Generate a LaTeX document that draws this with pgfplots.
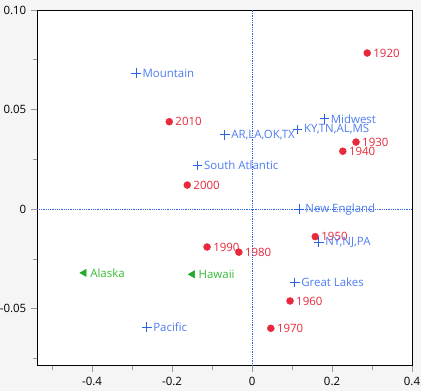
\documentclass[border=0pt]{standalone}
\usepackage{pgfplots}
\usepackage{pgfplotstable}
\pgfplotsset{compat=1.18}
\usepackage{fontspec}
\setmainfont{Open Sans}
\definecolor{bg}{HTML}{F5F5F5}
\definecolor{cred}{HTML}{E8283C}
\definecolor{cblue}{HTML}{2B62E6}
\definecolor{cbluet}{HTML}{4F7DF0}
\definecolor{cgreen}{HTML}{22AA2A}
\definecolor{cgreent}{HTML}{33BB33}
\pgfplotstableread[col sep=semicolon,row sep=\\]{
x;y;label\\
0.288;0.0784;1920\\
0.260;0.0337;1930\\
0.227;0.0291;1940\\
0.158;-0.0138;1950\\
0.095;-0.0461;1960\\
0.047;-0.0598;1970\\
-0.033;-0.0216;1980\\
-0.1125;-0.0190;1990\\
-0.162;0.0121;2000\\
-0.207;0.0439;2010\\
}\years
\pgfplotstableread[col sep=semicolon,row sep=\\]{
x;y;label\\
-0.290;0.0683;Mountain\\
-0.136;0.0219;South Atlantic\\
-0.068;0.0373;AR,LA,OK,TX\\
0.114;0.0400;KY,TN,AL,MS\\
0.181;0.0454;Midwest\\
0.1175;0.0000;New England\\
0.167;-0.0166;NY,NJ,PA\\
0.107;-0.0369;Great Lakes\\
-0.263;-0.0593;Pacific\\
}\regions
\pgfplotstableread[col sep=semicolon,row sep=\\]{
x;y;label\\
-0.420;-0.0320;Alaska\\
-0.149;-0.0327;Hawaii\\
}\states
\begin{document}
\begin{tikzpicture}[x=1bp,y=1bp]
\fill[bg] (-37.3,-25.3) rectangle (383.7,365.7);
\useasboundingbox (-37.3,-25.3) rectangle (383.7,365.7);
\begin{axis}[
  at={(0,0)}, anchor=south west,
  scale only axis, width=374.7bp, height=355.7bp,
  xmin=-0.537, xmax=0.4, ymin=-0.0786, ymax=0.1,
  axis background/.style={fill=white},
  axis line style={black, line width=0.8bp},
  xtick={-0.4,-0.2,0,0.2,0.4},
  xticklabels={-0.4,-0.2,0,0.2,0.4},
  minor xtick={-0.5,-0.3,-0.1,0.1,0.3},
  ytick={-0.05,0,0.05,0.1},
  yticklabels={-0.05,0,0.05,0.10},
  minor ytick={-0.075,-0.025,0.025,0.075},
  tick align=outside,
  xtick pos=bottom, ytick pos=left,
  major tick length=6.5bp, minor tick length=4bp,
  tick style={gray!80, line width=0.8bp},
  tick label style={font=\fontsize{11.5}{13}\selectfont, text=black},
  xticklabel style={yshift=-1bp},
  yticklabel style={xshift=-1bp},
  /pgf/number format/assume math mode=true,
  clip=false,
  nodes near coords,
  point meta=explicit symbolic,
  every node near coord/.style={anchor=west, inner sep=0pt, xshift=6bp, font=\fontsize{11.5}{13}\selectfont},
]
\addplot[cblue, densely dotted, line width=0.8bp, forget plot, nodes near coords={}] coordinates {(0,-0.0786) (0,0.1)};
\addplot[cblue, densely dotted, line width=0.8bp, forget plot, nodes near coords={}] coordinates {(-0.537,0) (0.4,0)};
\addplot[only marks, mark=*, mark size=3.5bp, color=cred,
  every node near coord/.append style={text=cred}] table[x=x,y=y,meta=label] {\years};
\addplot[only marks, mark=+, mark size=4.8bp, color=cblue, mark options={line width=0.9bp},
  every node near coord/.append style={text=cbluet}] table[x=x,y=y,meta=label] {\regions};
\addplot[only marks, mark=triangle*, mark size=4.2bp, color=cgreen, mark options={rotate=90},
  every node near coord/.append style={text=cgreent}] table[x=x,y=y,meta=label] {\states};
\end{axis}
\end{tikzpicture}
\end{document}
